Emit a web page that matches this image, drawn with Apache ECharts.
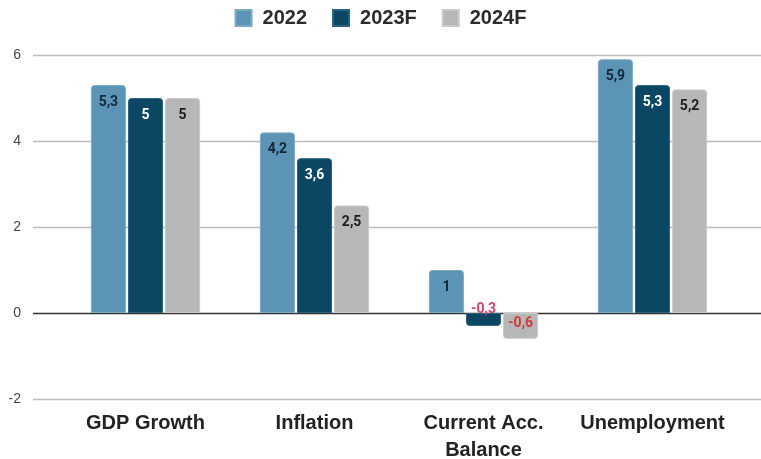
<!DOCTYPE html>
<html>
<head>
<meta charset="utf-8">
<script src="https://cdn.jsdelivr.net/npm/echarts@6/dist/echarts.min.js"></script>
<style>
  html, body { margin: 0; padding: 0; background: #fff; }
  #chart { width: 761px; height: 459px; }
</style>
</head>
<body>
<div id="chart"></div>
<script>
// Economic indicators, % (2023/2024 are forecasts)
const categories = ['GDP Growth', 'Inflation', 'Current Acc.\nBalance', 'Unemployment'];
const seriesNames = ['2022', '2023F', '2024F'];
const values2022 = [5.3, 4.2, 1, 5.9];
const values2023F = [5, 3.6, -0.3, 5.3];
const values2024F = [5, 2.5, -0.6, 5.2];
const yTicks = [-2, 0, 2, 4, 6];

const fills = ['#5b94b4', '#0b4762', '#b7b7b7'];
const edges = ['#7ba9c4', '#2a6280', '#c9c9c9'];
const labelInk = ['#13263a', '#ffffff', '#1d1d1d'];

const Y_MIN = yTicks[0], Y_MAX = yTicks[yTicks.length - 1], Y_STEP = yTicks[1] - yTicks[0];
const fmt = v => String(v).replace('.', ',');
const SANS = '"Liberation Sans", Arial, sans-serif';

function buildSeries(name, vals, i) {
  return {
    name: name,
    type: 'bar',
    xAxisIndex: 1,
    yAxisIndex: 1,
    barWidth: 35,
    barGap: '6%',
    itemStyle: { color: fills[i], borderColor: edges[i], borderWidth: 1 },
    data: vals.map(v => {
      const neg = v < 0;
      const item = {
        value: v,
        itemStyle: { borderRadius: neg ? [0, 0, 3, 3] : [3, 3, 0, 0] },
        label: {
          show: true,
          position: 'insideTop',
          distance: neg ? 3 : 10,
          formatter: p => fmt(p.value),
          fontFamily: 'Roboto, Arial, sans-serif',
          fontWeight: 'bold',
          fontSize: 14,
          color: neg ? '#d23a3a' : labelInk[i]
        }
      };
      if (neg && v > -0.5) {
        item.label.offset = [0, -14];
        item.label.color = '#c9466a';
      }
      return item;
    })
  };
}

const chart = echarts.init(document.getElementById('chart'), null, { renderer: 'canvas' });
chart.setOption({
  animation: false,
  backgroundColor: '#ffffff',
  textStyle: { fontFamily: SANS },
  legend: {
    top: 3,
    left: 'center',
    itemWidth: 16,
    itemHeight: 16,
    itemGap: 25,
    icon: 'rect',
    data: seriesNames,
    textStyle: { fontSize: 20, fontWeight: 'bold', color: '#2b2b2b', fontFamily: SANS, padding: [0, 0, 0, 6] }
  },
  grid: [
    { left: 33, right: 0, top: 55, bottom: 60, outerBoundsMode: 'none', containLabel: false },
    { left: 61, right: 24, top: 55, bottom: 60, outerBoundsMode: 'none', containLabel: false }
  ],
  xAxis: [
    { type: 'value', gridIndex: 0, min: 0, max: 1, show: false },
    {
      type: 'category',
      gridIndex: 1,
      data: categories,
      axisLine: { show: false },
      axisTick: { show: false },
      axisLabel: {
        interval: 0,
        hideOverlap: false,
        margin: 11,
        fontSize: 20,
        fontWeight: 'bold',
        color: '#222',
        lineHeight: 27,
        fontFamily: SANS
      }
    }
  ],
  yAxis: [
    {
      type: 'value',
      gridIndex: 0,
      min: Y_MIN,
      max: Y_MAX,
      interval: Y_STEP,
      axisLine: { show: false },
      axisTick: { show: false },
      axisLabel: { margin: 12, fontSize: 14, color: '#444', fontFamily: SANS },
      splitLine: { lineStyle: { color: ['#bdbdbd', '#333333', '#bdbdbd', '#bdbdbd', '#bdbdbd'], width: 1.3 } }
    },
    { type: 'value', gridIndex: 1, min: Y_MIN, max: Y_MAX, interval: Y_STEP, show: false }
  ],
  series: [
    buildSeries(seriesNames[0], values2022, 0),
    buildSeries(seriesNames[1], values2023F, 1),
    buildSeries(seriesNames[2], values2024F, 2)
  ]
});
</script>
</body>
</html>
